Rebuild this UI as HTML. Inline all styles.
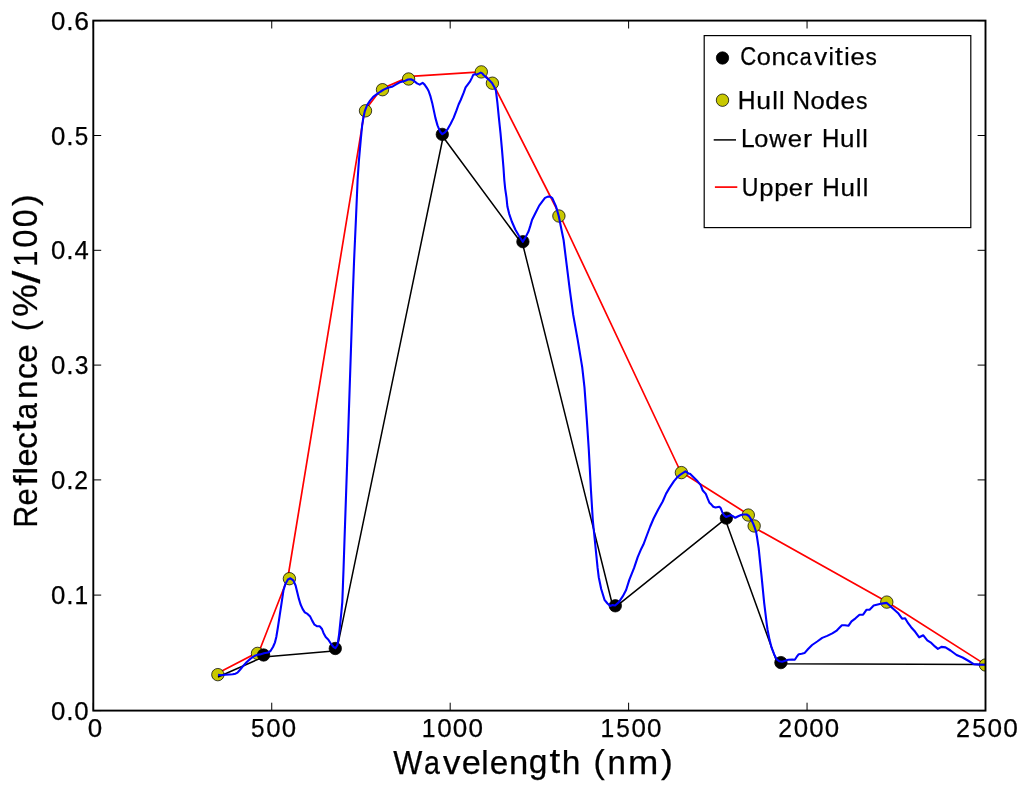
<!DOCTYPE html>
<html><head><meta charset="utf-8"><style>
html,body{margin:0;padding:0;background:#fff;}
svg{display:block;filter:blur(0.4px);}
text{font-family:"Liberation Sans",sans-serif;stroke:#000;stroke-width:0.25px;}
</style></head><body>
<svg width="1024" height="793" viewBox="0 0 1024 793">
<rect width="1024" height="793" fill="#fff"/>
<defs><clipPath id="ax"><rect x="93.3" y="20.6" width="892.2" height="690"/></clipPath></defs>
<g clip-path="url(#ax)">
<polyline points="218.0,672.9 259.0,651.7 287.8,578.0 364.6,110.8 381.5,88.8 410.5,76.4 481.0,71.9 492.4,82.3 560.5,216.5 680.5,471.5 748.0,514.2 754.1,527.5 886.8,601.8 985.5,664.6" fill="none" stroke="#ff0000" stroke-width="1.7" stroke-linejoin="round"/>
<circle cx="217.85" cy="674.65" r="6.2" fill="#c8c800" stroke="#000" stroke-width="0.75"/>
<circle cx="257.5" cy="653.4" r="6.2" fill="#c8c800" stroke="#000" stroke-width="0.75"/>
<circle cx="289.4" cy="578.7" r="6.2" fill="#c8c800" stroke="#000" stroke-width="0.75"/>
<circle cx="365.5" cy="110.8" r="6.2" fill="#c8c800" stroke="#000" stroke-width="0.75"/>
<circle cx="382.5" cy="89.7" r="6.2" fill="#c8c800" stroke="#000" stroke-width="0.75"/>
<circle cx="408.6" cy="79" r="6.2" fill="#c8c800" stroke="#000" stroke-width="0.75"/>
<circle cx="481.3" cy="71.9" r="6.2" fill="#c8c800" stroke="#000" stroke-width="0.75"/>
<circle cx="492.4" cy="83.2" r="6.2" fill="#c8c800" stroke="#000" stroke-width="0.75"/>
<circle cx="558.9" cy="216" r="6.2" fill="#c8c800" stroke="#000" stroke-width="0.75"/>
<circle cx="681.4" cy="472.6" r="6.2" fill="#c8c800" stroke="#000" stroke-width="0.75"/>
<circle cx="748.3" cy="515.05" r="6.2" fill="#c8c800" stroke="#000" stroke-width="0.75"/>
<circle cx="754.15" cy="525.95" r="6.2" fill="#c8c800" stroke="#000" stroke-width="0.75"/>
<circle cx="886.8" cy="602.1" r="6.2" fill="#c8c800" stroke="#000" stroke-width="0.75"/>
<circle cx="985.5" cy="665" r="6.2" fill="#c8c800" stroke="#000" stroke-width="0.75"/>
<polyline points="218.0,677.0 263.6,656.9 336.6,650.8 443.1,137.0 522.9,245.0 613.4,608.7 725.1,519.1 777.5,663.8 985.5,664.6" fill="none" stroke="#000" stroke-width="1.5" stroke-linejoin="round"/>
<circle cx="263.6" cy="655" r="6.2" fill="#000" stroke="#000" stroke-width="0.75"/>
<circle cx="335.3" cy="648.5" r="6.2" fill="#000" stroke="#000" stroke-width="0.75"/>
<circle cx="442.3" cy="134.4" r="6.2" fill="#000" stroke="#000" stroke-width="0.75"/>
<circle cx="522.9" cy="241.7" r="6.2" fill="#000" stroke="#000" stroke-width="0.75"/>
<circle cx="615.3" cy="605.8" r="6.2" fill="#000" stroke="#000" stroke-width="0.75"/>
<circle cx="726.35" cy="518.15" r="6.2" fill="#000" stroke="#000" stroke-width="0.75"/>
<circle cx="780.9" cy="662.6" r="6.2" fill="#000" stroke="#000" stroke-width="0.75"/>
<polyline points="218.0,674.9 221.6,675.3 225.1,674.8 229.8,674.5 232.7,674.3 235.5,673.7 237.5,672.6 239.2,670.7 241.1,668.5 243.0,666.2 246.8,662.0 250.6,658.6 254.4,656.0 257.5,654.8 260.0,654.4 264.0,653.3 268.0,652.5 270.5,651.0 273.0,647.0 275.0,642.3 276.3,637.0 277.8,628.0 279.7,615.4 281.6,602.8 283.5,590.2 285.4,583.9 287.9,579.5 290.4,578.3 293.3,580.4 295.6,585.5 297.3,592.5 298.9,598.9 300.5,604.3 302.7,609.1 304.8,612.3 307.5,613.9 310.2,616.6 312.3,620.9 314.5,624.7 317.2,626.3 319.8,626.3 322.0,629.0 323.6,633.2 325.7,637.0 328.4,639.7 331.1,644.0 333.8,647.2 335.4,648.2 337.5,645.0 339.1,634.3 340.2,623.6 341.3,612.9 342.3,602.2 342.9,586.1 343.5,570.0 344.5,540.0 348.1,435.0 352.6,300.0 354.1,260.0 355.9,220.0 357.6,180.0 358.9,160.8 360.9,138.1 362.2,125.0 363.3,118.0 364.8,111.1 367.1,105.1 370.1,100.6 373.2,96.8 376.9,94.1 380.7,91.5 383.7,89.6 387.9,87.8 391.9,86.8 396.1,84.4 399.8,82.3 402.8,81.4 405.2,80.8 408.0,79.5 411.0,79.2 413.5,80.5 417.0,83.4 419.7,84.6 422.6,82.8 424.6,84.6 427.0,88.1 428.6,91.0 430.5,96.4 432.2,102.9 433.8,110.4 435.4,117.9 437.5,125.4 440.2,131.8 442.3,134.2 445.0,132.3 447.7,129.1 450.4,124.3 453.6,117.9 456.5,110.4 458.6,104.5 460.7,100.0 463.7,92.7 465.6,87.4 467.5,84.8 470.1,81.4 472.0,77.6 473.2,74.9 474.7,74.2 476.9,74.5 479.2,73.4 480.7,72.6 482.2,73.4 483.8,75.3 488.2,79.1 492.0,82.9 494.3,87.0 495.9,90.5 497.4,102.9 498.9,118.0 500.5,133.2 502.0,149.8 503.5,168.0 504.3,180.0 505.2,188.8 506.5,197.7 507.4,206.5 509.1,213.6 511.8,221.5 515.3,229.5 518.9,235.7 522.8,241.8 525.5,237.4 528.6,231.2 530.3,225.9 532.1,219.8 535.6,212.7 539.2,205.6 541.8,202.1 545.0,197.9 547.9,196.6 550.5,196.8 552.3,198.1 555.9,206.1 558.8,216.2 561.7,230.7 563.6,240.0 566.4,262.7 569.8,289.9 573.2,314.9 577.7,339.9 582.2,367.1 584.5,387.6 586.8,419.3 588.8,449.7 590.9,489.4 592.8,520.0 594.0,532.0 595.2,544.0 596.4,555.9 597.6,567.9 598.8,577.5 601.2,589.0 604.5,599.8 607.5,603.5 610.2,605.9 612.5,605.1 615.1,605.5 618.9,602.1 622.7,596.4 626.1,590.0 629.3,579.9 631.7,573.9 634.1,567.9 637.7,557.1 641.3,548.7 643.4,544.6 646.8,535.5 650.2,526.5 653.6,518.5 658.2,509.5 662.7,501.5 666.1,493.6 669.5,487.9 674.0,481.1 677.4,477.1 680.8,474.3 685.4,471.4 688.8,473.7 690.0,473.8 693.8,477.6 697.6,481.3 700.7,485.1 702.6,490.2 705.8,493.9 707.6,498.4 709.5,502.8 711.0,504.1 713.3,506.8 715.5,507.5 719.3,506.8 720.8,508.3 722.4,512.5 723.9,515.1 726.1,517.0 728.0,516.2 730.7,515.1 732.9,516.2 735.2,517.8 738.2,516.2 741.0,515.1 743.6,514.5 746.6,514.5 748.9,516.0 751.1,519.4 753.0,523.2 754.5,527.0 756.1,531.9 757.0,537.0 758.7,548.3 761.5,575.7 764.2,603.1 766.9,625.1 767.6,630.0 769.6,640.1 771.6,647.7 774.1,654.2 776.6,659.2 779.2,661.3 782.2,661.8 785.2,660.8 788.2,659.8 792.3,659.5 794.8,659.8 796.8,656.7 798.8,654.2 801.7,653.8 804.5,653.1 808.1,649.0 812.1,645.0 817.2,641.5 822.2,637.9 827.2,635.9 832.3,633.4 836.3,630.9 839.4,627.8 841.9,625.3 844.9,625.3 848.4,625.8 851.5,621.3 855.5,618.3 859.5,614.7 863.1,614.7 866.6,609.7 869.6,609.7 873.7,605.6 877.7,604.6 881.7,603.6 886.8,602.9 890.8,606.6 894.9,610.2 898.5,613.6 902.1,618.7 905.1,618.2 908.1,623.2 911.1,627.2 915.2,631.8 919.2,637.3 923.3,635.3 927.3,640.4 931.3,642.9 934.9,646.4 937.9,648.9 941.4,646.9 945.5,647.4 950.5,650.5 956.6,655.0 962.6,657.5 968.7,661.0 973.7,664.1 979.8,664.6 985.5,664.8" fill="none" stroke="#0000ff" stroke-width="2.1" stroke-linejoin="round" stroke-linecap="butt"/>
</g>
<path d="M93.30,710.6v-7.9M93.30,20.6v7.9M271.74,710.6v-7.9M271.74,20.6v7.9M450.18,710.6v-7.9M450.18,20.6v7.9M628.62,710.6v-7.9M628.62,20.6v7.9M807.06,710.6v-7.9M807.06,20.6v7.9M985.50,710.6v-7.9M985.50,20.6v7.9M93.3,710.60h7.9M985.5,710.60h-7.9M93.3,595.10h7.9M985.5,595.10h-7.9M93.3,479.90h7.9M985.5,479.90h-7.9M93.3,365.10h7.9M985.5,365.10h-7.9M93.3,250.30h7.9M985.5,250.30h-7.9M93.3,135.50h7.9M985.5,135.50h-7.9M93.3,20.60h7.9M985.5,20.60h-7.9" stroke="#000" stroke-width="1.0" fill="none"/>
<rect x="93.3" y="20.6" width="892.2" height="690.0" fill="none" stroke="#000" stroke-width="1.9"/>
<rect x="704.2" y="35.6" width="266.6" height="192" fill="#fff" stroke="#000" stroke-width="1.2"/>
<circle cx="722.5" cy="58" r="6.2" fill="#000" stroke="#000" stroke-width="0.75"/>
<circle cx="722.5" cy="100.2" r="6.2" fill="#c8c800" stroke="#000" stroke-width="0.75"/>
<path d="M713.7,139.9H736" stroke="#000" stroke-width="1.5"/>
<path d="M714.9,187.1H737.3" stroke="#ff0000" stroke-width="1.7"/>
<text fill="#000"><tspan x="740.19" y="65.00" font-size="25.05" textLength="15.99" lengthAdjust="spacingAndGlyphs">C</tspan><tspan x="756.80" y="65.01" font-size="24.58" textLength="14.04" lengthAdjust="spacingAndGlyphs">o</tspan><tspan x="771.48" y="64.90" font-size="24.38" textLength="14.37" lengthAdjust="spacingAndGlyphs">n</tspan><tspan x="786.43" y="65.01" font-size="24.58" textLength="11.94" lengthAdjust="spacingAndGlyphs">c</tspan><tspan x="799.70" y="65.01" font-size="24.58" textLength="11.91" lengthAdjust="spacingAndGlyphs">a</tspan><tspan x="814.32" y="64.90" font-size="24.29" textLength="12.90" lengthAdjust="spacingAndGlyphs">v</tspan><tspan x="828.39" y="64.90" font-size="24.53" textLength="5.42" lengthAdjust="spacingAndGlyphs">i</tspan><tspan x="835.04" y="64.71" font-size="25.19" textLength="7.84" lengthAdjust="spacingAndGlyphs">t</tspan><tspan x="844.29" y="64.90" font-size="24.53" textLength="5.42" lengthAdjust="spacingAndGlyphs">i</tspan><tspan x="850.50" y="65.01" font-size="24.58" textLength="14.26" lengthAdjust="spacingAndGlyphs">e</tspan><tspan x="865.57" y="65.01" font-size="24.58" textLength="11.33" lengthAdjust="spacingAndGlyphs">s</tspan></text>
<text fill="#000"><tspan x="737.76" y="108.60" font-size="24.85" textLength="17.82" lengthAdjust="spacingAndGlyphs">H</tspan><tspan x="756.32" y="108.71" font-size="24.49" textLength="14.77" lengthAdjust="spacingAndGlyphs">u</tspan><tspan x="772.21" y="108.60" font-size="24.53" textLength="5.64" lengthAdjust="spacingAndGlyphs">l</tspan><tspan x="779.07" y="108.60" font-size="24.53" textLength="5.64" lengthAdjust="spacingAndGlyphs">l</tspan> <tspan x="792.63" y="108.60" font-size="24.85" textLength="17.26" lengthAdjust="spacingAndGlyphs">N</tspan><tspan x="810.53" y="108.71" font-size="24.58" textLength="14.27" lengthAdjust="spacingAndGlyphs">o</tspan><tspan x="825.26" y="108.70" font-size="24.67" textLength="14.61" lengthAdjust="spacingAndGlyphs">d</tspan><tspan x="840.58" y="108.71" font-size="24.58" textLength="14.49" lengthAdjust="spacingAndGlyphs">e</tspan><tspan x="855.90" y="108.71" font-size="24.58" textLength="11.51" lengthAdjust="spacingAndGlyphs">s</tspan></text>
<text fill="#000"><tspan x="741.07" y="147.20" font-size="24.85" textLength="13.68" lengthAdjust="spacingAndGlyphs">L</tspan><tspan x="754.26" y="147.31" font-size="24.58" textLength="14.07" lengthAdjust="spacingAndGlyphs">o</tspan><tspan x="769.18" y="147.20" font-size="24.29" textLength="17.35" lengthAdjust="spacingAndGlyphs">w</tspan><tspan x="787.83" y="147.31" font-size="24.58" textLength="14.28" lengthAdjust="spacingAndGlyphs">e</tspan><tspan x="802.94" y="147.20" font-size="24.38" textLength="9.09" lengthAdjust="spacingAndGlyphs">r</tspan> <tspan x="821.91" y="147.20" font-size="24.85" textLength="17.40" lengthAdjust="spacingAndGlyphs">H</tspan><tspan x="840.03" y="147.31" font-size="24.49" textLength="14.43" lengthAdjust="spacingAndGlyphs">u</tspan><tspan x="855.56" y="147.20" font-size="24.53" textLength="5.51" lengthAdjust="spacingAndGlyphs">l</tspan><tspan x="862.26" y="147.20" font-size="24.53" textLength="5.51" lengthAdjust="spacingAndGlyphs">l</tspan></text>
<text fill="#000"><tspan x="741.81" y="196.00" font-size="24.99" textLength="16.70" lengthAdjust="spacingAndGlyphs">U</tspan><tspan x="759.23" y="195.75" font-size="24.11" textLength="14.26" lengthAdjust="spacingAndGlyphs">p</tspan><tspan x="774.17" y="195.75" font-size="24.11" textLength="14.26" lengthAdjust="spacingAndGlyphs">p</tspan><tspan x="788.88" y="196.01" font-size="24.58" textLength="14.14" lengthAdjust="spacingAndGlyphs">e</tspan><tspan x="803.78" y="195.90" font-size="24.38" textLength="9.09" lengthAdjust="spacingAndGlyphs">r</tspan> <tspan x="822.31" y="195.90" font-size="24.85" textLength="17.45" lengthAdjust="spacingAndGlyphs">H</tspan><tspan x="840.47" y="196.01" font-size="24.49" textLength="14.46" lengthAdjust="spacingAndGlyphs">u</tspan><tspan x="856.04" y="195.90" font-size="24.53" textLength="5.52" lengthAdjust="spacingAndGlyphs">l</tspan><tspan x="862.75" y="195.90" font-size="24.53" textLength="5.52" lengthAdjust="spacingAndGlyphs">l</tspan></text>
<text fill="#000"><tspan x="393.25" y="773.60" font-size="34.03" textLength="29.07" lengthAdjust="spacingAndGlyphs">W</tspan><tspan x="423.95" y="773.74" font-size="33.66" textLength="15.91" lengthAdjust="spacingAndGlyphs">a</tspan><tspan x="443.03" y="773.60" font-size="33.27" textLength="17.45" lengthAdjust="spacingAndGlyphs">v</tspan><tspan x="461.74" y="773.74" font-size="33.66" textLength="19.17" lengthAdjust="spacingAndGlyphs">e</tspan><tspan x="481.36" y="773.60" font-size="33.60" textLength="7.36" lengthAdjust="spacingAndGlyphs">l</tspan><tspan x="489.78" y="773.74" font-size="33.66" textLength="18.58" lengthAdjust="spacingAndGlyphs">e</tspan><tspan x="508.91" y="773.60" font-size="33.39" textLength="19.29" lengthAdjust="spacingAndGlyphs">n</tspan><tspan x="528.87" y="773.40" font-size="33.02" textLength="18.66" lengthAdjust="spacingAndGlyphs">g</tspan><tspan x="549.44" y="773.34" font-size="34.51" textLength="10.74" lengthAdjust="spacingAndGlyphs">t</tspan><tspan x="561.65" y="773.60" font-size="33.60" textLength="18.67" lengthAdjust="spacingAndGlyphs">h</tspan> <tspan x="593.48" y="773.36" font-size="32.82" textLength="11.29" lengthAdjust="spacingAndGlyphs">(</tspan><tspan x="607.56" y="773.60" font-size="33.39" textLength="18.43" lengthAdjust="spacingAndGlyphs">n</tspan><tspan x="627.94" y="773.60" font-size="33.39" textLength="30.35" lengthAdjust="spacingAndGlyphs">m</tspan><tspan x="660.93" y="773.36" font-size="32.82" textLength="11.80" lengthAdjust="spacingAndGlyphs">)</tspan></text>
<text transform="translate(36.5,0) rotate(-90)" fill="#000"><tspan x="-527.82" y="0.00" font-size="34.03" textLength="22.06" lengthAdjust="spacingAndGlyphs">R</tspan><tspan x="-505.41" y="0.14" font-size="33.66" textLength="17.16" lengthAdjust="spacingAndGlyphs">e</tspan><tspan x="-485.87" y="0.00" font-size="33.71" textLength="10.49" lengthAdjust="spacingAndGlyphs">f</tspan><tspan x="-474.79" y="0.00" font-size="33.60" textLength="7.87" lengthAdjust="spacingAndGlyphs">l</tspan><tspan x="-466.58" y="0.14" font-size="33.66" textLength="18.11" lengthAdjust="spacingAndGlyphs">e</tspan><tspan x="-448.95" y="0.14" font-size="33.66" textLength="17.09" lengthAdjust="spacingAndGlyphs">c</tspan><tspan x="-431.26" y="-0.26" font-size="34.51" textLength="10.74" lengthAdjust="spacingAndGlyphs">t</tspan><tspan x="-419.46" y="0.14" font-size="33.66" textLength="16.50" lengthAdjust="spacingAndGlyphs">a</tspan><tspan x="-399.05" y="0.00" font-size="33.39" textLength="18.56" lengthAdjust="spacingAndGlyphs">n</tspan><tspan x="-379.19" y="0.14" font-size="33.66" textLength="16.40" lengthAdjust="spacingAndGlyphs">c</tspan><tspan x="-362.94" y="0.14" font-size="33.66" textLength="18.82" lengthAdjust="spacingAndGlyphs">e</tspan> <tspan x="-331.15" y="-0.24" font-size="32.82" textLength="10.91" lengthAdjust="spacingAndGlyphs">(</tspan><tspan x="-317.10" y="0.31" font-size="34.68" textLength="32.96" lengthAdjust="spacingAndGlyphs">%</tspan><tspan x="-283.44" y="3.78" font-size="38.37" textLength="12.79" lengthAdjust="spacingAndGlyphs">/</tspan><tspan x="-266.87" y="0.00" font-size="34.03" textLength="16.09" lengthAdjust="spacingAndGlyphs">1</tspan><tspan x="-247.82" y="0.14" font-size="34.32" textLength="18.29" lengthAdjust="spacingAndGlyphs">0</tspan><tspan x="-227.18" y="0.14" font-size="34.32" textLength="17.82" lengthAdjust="spacingAndGlyphs">0</tspan><tspan x="-205.97" y="-0.24" font-size="32.82" textLength="11.80" lengthAdjust="spacingAndGlyphs">)</tspan></text>
<text fill="#000"><tspan x="51.05" y="719.75" font-size="25.16" textLength="14.35" lengthAdjust="spacingAndGlyphs">0</tspan><tspan x="66.21" y="719.65" font-size="27.33" textLength="7.31" lengthAdjust="spacingAndGlyphs">.</tspan><tspan x="74.33" y="719.75" font-size="25.16" textLength="14.35" lengthAdjust="spacingAndGlyphs">0</tspan></text>
<text fill="#000"><tspan x="51.05" y="604.25" font-size="25.16" textLength="14.35" lengthAdjust="spacingAndGlyphs">0</tspan><tspan x="66.21" y="604.15" font-size="27.33" textLength="7.31" lengthAdjust="spacingAndGlyphs">.</tspan><tspan x="74.62" y="604.15" font-size="24.95" textLength="13.65" lengthAdjust="spacingAndGlyphs">1</tspan></text>
<text fill="#000"><tspan x="51.05" y="489.05" font-size="25.16" textLength="14.35" lengthAdjust="spacingAndGlyphs">0</tspan><tspan x="66.21" y="488.95" font-size="27.33" textLength="7.31" lengthAdjust="spacingAndGlyphs">.</tspan><tspan x="74.31" y="488.95" font-size="25.02" textLength="13.79" lengthAdjust="spacingAndGlyphs">2</tspan></text>
<text fill="#000"><tspan x="51.05" y="374.25" font-size="25.16" textLength="14.35" lengthAdjust="spacingAndGlyphs">0</tspan><tspan x="66.21" y="374.15" font-size="27.33" textLength="7.31" lengthAdjust="spacingAndGlyphs">.</tspan><tspan x="74.69" y="374.25" font-size="25.16" textLength="13.71" lengthAdjust="spacingAndGlyphs">3</tspan></text>
<text fill="#000"><tspan x="51.05" y="259.45" font-size="25.16" textLength="14.35" lengthAdjust="spacingAndGlyphs">0</tspan><tspan x="66.21" y="259.35" font-size="27.33" textLength="7.31" lengthAdjust="spacingAndGlyphs">.</tspan><tspan x="74.42" y="259.35" font-size="24.95" textLength="14.24" lengthAdjust="spacingAndGlyphs">4</tspan></text>
<text fill="#000"><tspan x="51.05" y="144.65" font-size="25.16" textLength="14.35" lengthAdjust="spacingAndGlyphs">0</tspan><tspan x="66.21" y="144.55" font-size="27.33" textLength="7.31" lengthAdjust="spacingAndGlyphs">.</tspan><tspan x="74.70" y="144.65" font-size="25.10" textLength="13.50" lengthAdjust="spacingAndGlyphs">5</tspan></text>
<text fill="#000"><tspan x="51.05" y="29.75" font-size="25.16" textLength="14.35" lengthAdjust="spacingAndGlyphs">0</tspan><tspan x="66.21" y="29.65" font-size="27.33" textLength="7.31" lengthAdjust="spacingAndGlyphs">.</tspan><tspan x="74.16" y="29.75" font-size="25.16" textLength="14.74" lengthAdjust="spacingAndGlyphs">6</tspan></text>
<text fill="#000"><tspan x="87.76" y="736.85" font-size="25.16" textLength="14.44" lengthAdjust="spacingAndGlyphs">0</tspan></text>
<text fill="#000"><tspan x="251.03" y="736.85" font-size="25.10" textLength="13.51" lengthAdjust="spacingAndGlyphs">5</tspan><tspan x="266.20" y="736.85" font-size="25.16" textLength="14.36" lengthAdjust="spacingAndGlyphs">0</tspan><tspan x="281.74" y="736.85" font-size="25.16" textLength="14.36" lengthAdjust="spacingAndGlyphs">0</tspan></text>
<text fill="#000"><tspan x="421.84" y="736.75" font-size="24.95" textLength="13.77" lengthAdjust="spacingAndGlyphs">1</tspan><tspan x="437.21" y="736.85" font-size="25.16" textLength="14.48" lengthAdjust="spacingAndGlyphs">0</tspan><tspan x="452.87" y="736.85" font-size="25.16" textLength="14.48" lengthAdjust="spacingAndGlyphs">0</tspan><tspan x="468.53" y="736.85" font-size="25.16" textLength="14.48" lengthAdjust="spacingAndGlyphs">0</tspan></text>
<text fill="#000"><tspan x="600.55" y="736.75" font-size="24.95" textLength="13.72" lengthAdjust="spacingAndGlyphs">1</tspan><tspan x="616.23" y="736.85" font-size="25.10" textLength="13.57" lengthAdjust="spacingAndGlyphs">5</tspan><tspan x="631.47" y="736.85" font-size="25.16" textLength="14.43" lengthAdjust="spacingAndGlyphs">0</tspan><tspan x="647.08" y="736.85" font-size="25.16" textLength="14.43" lengthAdjust="spacingAndGlyphs">0</tspan></text>
<text fill="#000"><tspan x="778.16" y="736.75" font-size="25.02" textLength="13.81" lengthAdjust="spacingAndGlyphs">2</tspan><tspan x="793.73" y="736.85" font-size="25.16" textLength="14.37" lengthAdjust="spacingAndGlyphs">0</tspan><tspan x="809.28" y="736.85" font-size="25.16" textLength="14.37" lengthAdjust="spacingAndGlyphs">0</tspan><tspan x="824.83" y="736.85" font-size="25.16" textLength="14.37" lengthAdjust="spacingAndGlyphs">0</tspan></text>
<text fill="#000"><tspan x="956.04" y="736.75" font-size="25.02" textLength="14.00" lengthAdjust="spacingAndGlyphs">2</tspan><tspan x="972.20" y="736.85" font-size="25.10" textLength="13.70" lengthAdjust="spacingAndGlyphs">5</tspan><tspan x="987.58" y="736.85" font-size="25.16" textLength="14.57" lengthAdjust="spacingAndGlyphs">0</tspan><tspan x="1003.34" y="736.85" font-size="25.16" textLength="14.57" lengthAdjust="spacingAndGlyphs">0</tspan></text>
</svg>
</body></html>
